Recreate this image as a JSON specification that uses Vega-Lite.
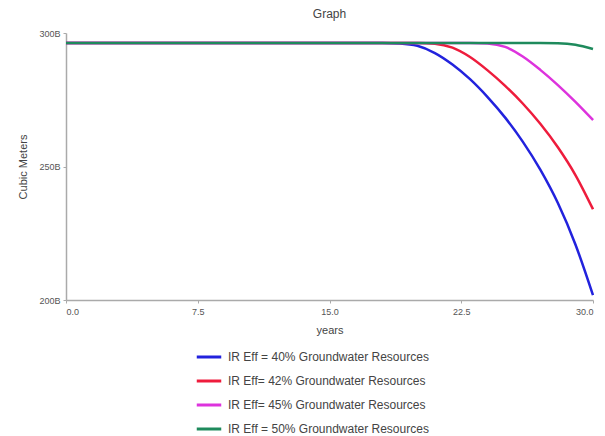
{
  "$schema": "https://vega.github.io/schema/vega-lite/v6.json",
  "width": 527,
  "height": 267,
  "autosize": "none",
  "padding": {"left": 66, "top": 33, "right": 12, "bottom": 136},
  "background": "white",
  "title": {"text": "Graph", "fontSize": 12, "font": "Liberation Sans", "fontWeight": "normal", "color": "#444444", "offset": 8},
  "config": {
    "view": {"stroke": null},
    "font": "Liberation Sans"
  },
  "datasets": {
    "gw": [
      {"year": 0, "series": "IR Eff = 40% Groundwater Resources", "value": 296.3},
      {"year": 5, "series": "IR Eff = 40% Groundwater Resources", "value": 296.3},
      {"year": 10, "series": "IR Eff = 40% Groundwater Resources", "value": 296.3},
      {"year": 15, "series": "IR Eff = 40% Groundwater Resources", "value": 296.3},
      {"year": 18, "series": "IR Eff = 40% Groundwater Resources", "value": 296.3},
      {"year": 19, "series": "IR Eff = 40% Groundwater Resources", "value": 296.1},
      {"year": 20, "series": "IR Eff = 40% Groundwater Resources", "value": 295.2},
      {"year": 21, "series": "IR Eff = 40% Groundwater Resources", "value": 292.5},
      {"year": 22, "series": "IR Eff = 40% Groundwater Resources", "value": 288.2},
      {"year": 23, "series": "IR Eff = 40% Groundwater Resources", "value": 282.7},
      {"year": 24, "series": "IR Eff = 40% Groundwater Resources", "value": 276.0},
      {"year": 25, "series": "IR Eff = 40% Groundwater Resources", "value": 268.3},
      {"year": 26, "series": "IR Eff = 40% Groundwater Resources", "value": 259.3},
      {"year": 27, "series": "IR Eff = 40% Groundwater Resources", "value": 248.8},
      {"year": 28, "series": "IR Eff = 40% Groundwater Resources", "value": 236.3},
      {"year": 29, "series": "IR Eff = 40% Groundwater Resources", "value": 220.8},
      {"year": 30, "series": "IR Eff = 40% Groundwater Resources", "value": 201.8},

      {"year": 0, "series": "IR Eff= 42% Groundwater Resources", "value": 296.3},
      {"year": 5, "series": "IR Eff= 42% Groundwater Resources", "value": 296.3},
      {"year": 10, "series": "IR Eff= 42% Groundwater Resources", "value": 296.3},
      {"year": 15, "series": "IR Eff= 42% Groundwater Resources", "value": 296.3},
      {"year": 20, "series": "IR Eff= 42% Groundwater Resources", "value": 296.3},
      {"year": 21, "series": "IR Eff= 42% Groundwater Resources", "value": 296.0},
      {"year": 22, "series": "IR Eff= 42% Groundwater Resources", "value": 294.5},
      {"year": 23, "series": "IR Eff= 42% Groundwater Resources", "value": 291.0},
      {"year": 24, "series": "IR Eff= 42% Groundwater Resources", "value": 286.0},
      {"year": 25, "series": "IR Eff= 42% Groundwater Resources", "value": 280.2},
      {"year": 26, "series": "IR Eff= 42% Groundwater Resources", "value": 273.6},
      {"year": 27, "series": "IR Eff= 42% Groundwater Resources", "value": 266.0},
      {"year": 28, "series": "IR Eff= 42% Groundwater Resources", "value": 257.2},
      {"year": 29, "series": "IR Eff= 42% Groundwater Resources", "value": 246.8},
      {"year": 30, "series": "IR Eff= 42% Groundwater Resources", "value": 234.0},

      {"year": 0, "series": "IR Eff= 45% Groundwater Resources", "value": 296.3},
      {"year": 5, "series": "IR Eff= 45% Groundwater Resources", "value": 296.3},
      {"year": 10, "series": "IR Eff= 45% Groundwater Resources", "value": 296.3},
      {"year": 15, "series": "IR Eff= 45% Groundwater Resources", "value": 296.3},
      {"year": 20, "series": "IR Eff= 45% Groundwater Resources", "value": 296.3},
      {"year": 23, "series": "IR Eff= 45% Groundwater Resources", "value": 296.3},
      {"year": 24, "series": "IR Eff= 45% Groundwater Resources", "value": 296.1},
      {"year": 25, "series": "IR Eff= 45% Groundwater Resources", "value": 294.8},
      {"year": 26, "series": "IR Eff= 45% Groundwater Resources", "value": 291.2},
      {"year": 27, "series": "IR Eff= 45% Groundwater Resources", "value": 286.2},
      {"year": 28, "series": "IR Eff= 45% Groundwater Resources", "value": 280.5},
      {"year": 29, "series": "IR Eff= 45% Groundwater Resources", "value": 274.2},
      {"year": 30, "series": "IR Eff= 45% Groundwater Resources", "value": 267.4},

      {"year": 0, "series": "IR Eff = 50% Groundwater Resources", "value": 296.3},
      {"year": 5, "series": "IR Eff = 50% Groundwater Resources", "value": 296.3},
      {"year": 10, "series": "IR Eff = 50% Groundwater Resources", "value": 296.3},
      {"year": 15, "series": "IR Eff = 50% Groundwater Resources", "value": 296.3},
      {"year": 20, "series": "IR Eff = 50% Groundwater Resources", "value": 296.3},
      {"year": 25, "series": "IR Eff = 50% Groundwater Resources", "value": 296.3},
      {"year": 27, "series": "IR Eff = 50% Groundwater Resources", "value": 296.3},
      {"year": 28, "series": "IR Eff = 50% Groundwater Resources", "value": 296.2},
      {"year": 29, "series": "IR Eff = 50% Groundwater Resources", "value": 295.6},
      {"year": 30, "series": "IR Eff = 50% Groundwater Resources", "value": 294.0}
    ]
  },
  "data": {"name": "gw"},
  "mark": {"type": "line", "interpolate": "monotone", "strokeWidth": 2.5},
  "encoding": {
    "x": {
      "field": "year",
      "type": "quantitative",
      "scale": {"domain": [0, 30], "nice": false},
      "axis": {
        "values": [0, 7.5, 15, 22.5, 30],
        "format": ".1f",
        "title": "years",
        "grid": false,
        "domainColor": "#aaaaaa",
        "domainWidth": 1.5,
        "tickColor": "#aaaaaa",
        "tickSize": 3,
        "labelFontSize": 9,
        "labelColor": "#555555",
        "labelPadding": 4,
        "titleFontSize": 11,
        "titleFontWeight": "normal",
        "titleColor": "#444444",
        "titlePadding": 8
      }
    },
    "y": {
      "field": "value",
      "type": "quantitative",
      "scale": {"domain": [200, 300], "nice": false, "zero": false},
      "axis": {
        "values": [200, 250, 300],
        "labelExpr": "datum.value + 'B'",
        "title": "Cubic Meters",
        "grid": false,
        "domainColor": "#aaaaaa",
        "domainWidth": 1.5,
        "tickColor": "#aaaaaa",
        "tickSize": 3,
        "labelFontSize": 9,
        "labelColor": "#555555",
        "labelPadding": 3,
        "titleFontSize": 11,
        "titleFontWeight": "normal",
        "titleColor": "#444444",
        "titlePadding": 10
      }
    },
    "color": {
      "field": "series",
      "type": "nominal",
      "scale": {
        "domain": [
          "IR Eff = 40% Groundwater Resources",
          "IR Eff= 42% Groundwater Resources",
          "IR Eff= 45% Groundwater Resources",
          "IR Eff = 50% Groundwater Resources"
        ],
        "range": ["#2222dd", "#ee1c3c", "#dd33dd", "#1e8a5c"]
      },
      "legend": {
        "title": null,
        "orient": "none",
        "legendX": 129,
        "legendY": 310,
        "direction": "vertical",
        "symbolType": "stroke",
        "symbolSize": 600,
        "symbolStrokeWidth": 3,
        "labelFontSize": 12,
        "labelColor": "#444444",
        "labelLimit": 400,
        "rowPadding": 4,
        "labelOffset": 5
      }
    }
  }
}
